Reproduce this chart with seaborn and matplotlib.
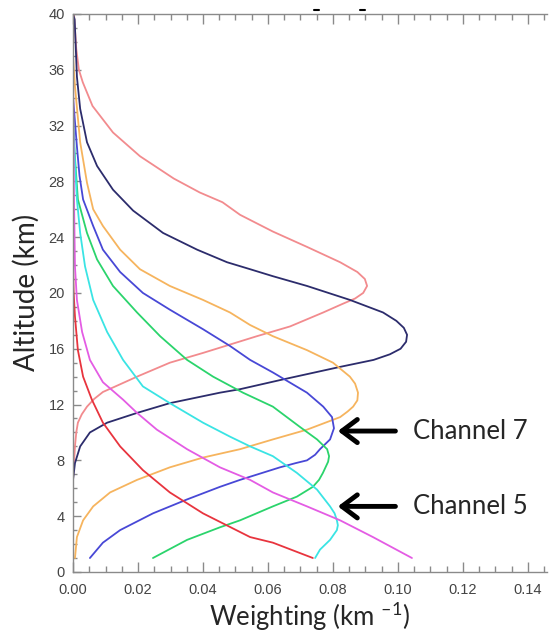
import numpy as np
import pandas as pd
import matplotlib
matplotlib.use("Agg")
import matplotlib.pyplot as plt
import seaborn as sns
from matplotlib.ticker import MultipleLocator, FormatStrFormatter

# weighting functions (weight in km^-1, altitude in km)
pink_w = [0.0003, 0.001, 0.0018, 0.003, 0.006, 0.0123, 0.0206, 0.031, 0.039, 0.046, 0.0514, 0.0615,
          0.072, 0.0822, 0.0875, 0.0898, 0.0905, 0.0893, 0.0868, 0.0828, 0.077, 0.0668, 0.0566, 0.040,
          0.0298, 0.0197, 0.014, 0.0092, 0.0065, 0.0043, 0.0027, 0.0015, 0.001, 0.0006, 0.0, 0.0]
pink_alt = [40, 37.5, 36, 35.1, 33.4, 31.5, 29.8, 28.2, 27.2, 26.5, 25.6, 24.4,
            23.3, 22.2, 21.5, 21.0, 20.5, 20.0, 19.6, 19.2, 18.6, 17.6, 16.9, 15.7,
            15.0, 14.0, 13.4, 12.9, 12.4, 11.85, 11.3, 10.7, 10.0, 9.0, 6.6, 1.0]

navy_w = [0.0, 0.0005, 0.0012, 0.0022, 0.0043, 0.0074, 0.0123, 0.0185, 0.0277, 0.0382, 0.0474, 0.0545,
          0.0615, 0.072, 0.0852, 0.0954, 0.0995, 0.1018, 0.1028, 0.1025, 0.1008, 0.0975, 0.0925, 0.0822,
          0.0646, 0.0514, 0.0452, 0.0298, 0.0197, 0.0105, 0.0052, 0.0022, 0.0006, 0.0]
navy_alt = [40, 39.6, 35.5, 33.2, 30.8, 29.1, 27.4, 25.9, 24.3, 23.1, 22.2, 21.7,
            21.2, 20.5, 19.5, 18.6, 18.0, 17.5, 17.0, 16.5, 16.0, 15.6, 15.2, 14.7,
            13.8, 13.1, 12.85, 12.1, 11.4, 10.7, 10.0, 9.0, 7.8, 6.6]

orange_w = [0.0, 0.0006, 0.0022, 0.0043, 0.0062, 0.0092, 0.0145, 0.0206, 0.0298, 0.040, 0.0483, 0.0545,
            0.0615, 0.072, 0.080, 0.0852, 0.0868, 0.0877, 0.0875, 0.0862, 0.0845, 0.0822, 0.072, 0.0615,
            0.0514, 0.040, 0.0298, 0.0197, 0.0114, 0.0062, 0.0031, 0.0012, 0.0006]
orange_alt = [37, 34.8, 30.8, 27.9, 26.0, 24.8, 23.1, 21.7, 20.5, 19.5, 18.6, 17.7,
              16.9, 15.9, 15.0, 14.0, 13.5, 12.85, 12.3, 11.85, 11.5, 11.1, 10.2, 9.5,
              8.8, 8.2, 7.5, 6.6, 5.7, 4.7, 3.7, 2.5, 1.0]

blue_w = [0.0, 0.0012, 0.002, 0.0031, 0.0062, 0.0092, 0.0145, 0.0215, 0.0298, 0.040, 0.0483, 0.0545,
          0.0615, 0.072, 0.077, 0.0797, 0.0803, 0.0791, 0.076, 0.0745, 0.072, 0.0685, 0.0637, 0.0514,
          0.0452, 0.0351, 0.0246, 0.0145, 0.0092, 0.0052]
blue_alt = [34, 30.5, 28.4, 26.7, 24.8, 23.1, 21.5, 20.0, 18.8, 17.4, 16.2, 15.2,
            14.3, 12.85, 11.85, 11.1, 10.3, 9.5, 8.8, 8.4, 8.0, 7.8, 7.5, 6.6,
            6.1, 5.2, 4.2, 3.0, 2.1, 1.0]

green_w = [0.0, 0.0005, 0.0015, 0.0043, 0.0074, 0.0123, 0.0197, 0.0268, 0.0351, 0.0431, 0.0523, 0.0615,
           0.0698, 0.0751, 0.0782, 0.0788, 0.0785, 0.0769, 0.0757, 0.0738, 0.071, 0.0689, 0.0615, 0.0514,
           0.0452, 0.0351, 0.0246]
green_alt = [33, 30, 26.7, 24.3, 22.4, 20.5, 18.6, 16.9, 15.2, 14.0, 12.85, 11.85,
             10.4, 9.5, 8.8, 8.3, 7.9, 7.1, 6.6, 6.1, 5.7, 5.4, 4.7, 3.7,
             3.2, 2.3, 1.0]

cyan_w = [0.0, 0.0012, 0.0022, 0.0037, 0.0062, 0.0105, 0.0154, 0.0215, 0.0298, 0.040, 0.0483, 0.0545,
          0.0615, 0.0689, 0.0751, 0.0791, 0.0805, 0.0812, 0.0815, 0.0812, 0.0791, 0.076, 0.0745]
cyan_alt = [32, 26.7, 24.3, 21.9, 19.5, 17.2, 15.2, 13.3, 12.1, 10.7, 9.7, 9.0,
            8.3, 7.1, 5.9, 4.7, 4.2, 3.7, 3.35, 3.0, 2.3, 1.6, 1.0]

magenta_w = [0.0, 0.0003, 0.0006, 0.0012, 0.0028, 0.0052, 0.0092, 0.0154, 0.0197, 0.0258, 0.0351, 0.0452,
             0.0545, 0.0615, 0.072, 0.0822, 0.0923, 0.1043]
magenta_alt = [36, 26.7, 21.9, 19.5, 17.2, 15.2, 13.6, 12.35, 11.4, 10.2, 8.8, 7.5,
               6.6, 5.7, 4.7, 3.7, 2.5, 1.0]

red_w = [0.0, 0.0, 0.0002, 0.0006, 0.0015, 0.0031, 0.0058, 0.0092, 0.0145, 0.0215, 0.0298, 0.040,
         0.0545, 0.0615, 0.0738]
red_alt = [30, 21.9, 20.0, 18.3, 15.9, 14.0, 12.35, 10.7, 9.0, 7.3, 5.7, 4.2,
           2.5, 2.1, 1.0]

curves = [
    (pink_w, pink_alt, "#f28b8e"),
    (navy_w, navy_alt, "#2c2c6c"),
    (orange_w, orange_alt, "#f6b45e"),
    (blue_w, blue_alt, "#4848d6"),
    (green_w, green_alt, "#2bd46c"),
    (cyan_w, cyan_alt, "#3ae4e4"),
    (magenta_w, magenta_alt, "#e45ce4"),
    (red_w, red_alt, "#e8343e"),
]

# annotations: label, altitude of the peak it points at
notes = [("Channel 7", 10.1), ("Channel 5", 4.7)]

sns.set_style("ticks")
plt.rcParams['font.family'] = ['Lato', 'DejaVu Sans']
plt.rcParams['mathtext.fontset'] = 'custom'
plt.rcParams['mathtext.rm'] = 'Lato'
plt.rcParams['mathtext.default'] = 'regular'

fig = plt.figure(figsize=(5.49, 6.32), dpi=100)
ax = fig.add_axes([0.133, 0.095, 0.863, 0.883])

for w, alt, col in curves:
    df = pd.DataFrame({"w": w, "alt": alt})
    sns.lineplot(data=df, x="w", y="alt", sort=False, estimator=None, color=col, lw=1.3, ax=ax)

ax.set_xlim(0, 0.1458)
ax.set_ylim(0, 40)
ax.xaxis.set_major_locator(MultipleLocator(0.02))
ax.xaxis.set_minor_locator(MultipleLocator(0.005))
ax.yaxis.set_major_locator(MultipleLocator(4))
ax.yaxis.set_minor_locator(MultipleLocator(1))
ax.xaxis.set_major_formatter(FormatStrFormatter('%.2f'))

gray = "#8a8a8a"
for s in ["left", "bottom", "top"]:
    ax.spines[s].set_color(gray)
    ax.spines[s].set_linewidth(1.0)
ax.spines["right"].set_visible(False)

ax.tick_params(axis='x', which='major', direction='in', length=7, width=1, color=gray,
               top=True, labelsize=10.5, labelcolor="#444444", pad=8)
ax.tick_params(axis='x', which='minor', direction='in', length=4, width=1, color=gray, top=True)
ax.tick_params(axis='y', which='major', direction='in', length=5.5, width=1, color=gray,
               labelsize=10.5, labelcolor="#444444", pad=6)
ax.tick_params(axis='y', which='minor', direction='in', length=3, width=1, color=gray)
for lab in ax.get_xticklabels() + ax.get_yticklabels():
    lab.set_family('Liberation Sans')

ax.set_xlabel("Weighting (km $^{\u2013 1}$)", fontsize=18.5, labelpad=2)
ax.set_ylabel("Altitude (km)", fontsize=20, labelpad=6)

# two small stray dashes above the top axis in the original
for xd in [0.075, 0.089]:
    ax.plot([xd - 0.0008, xd + 0.0008], [40.3, 40.3], color='black', lw=1.5, clip_on=False)

for text, alt in notes:
    ax.annotate(text, xy=(0.0815, alt), xytext=(0.1045, alt), fontsize=18.5,
                va='center', ha='left',
                arrowprops=dict(arrowstyle='->,head_length=0.6,head_width=0.45', lw=3.5,
                                color='black', shrinkA=10, shrinkB=0))

fig.savefig("out.png", dpi=100)
